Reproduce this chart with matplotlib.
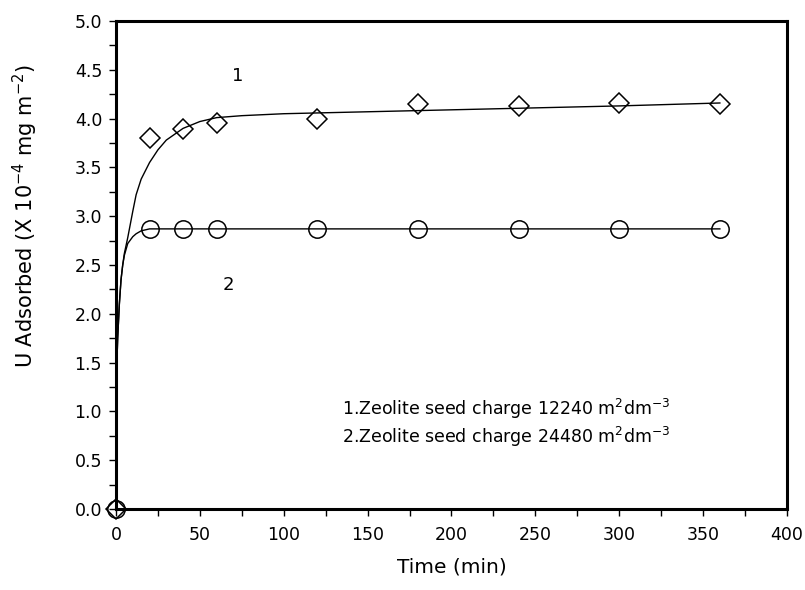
import matplotlib
matplotlib.use("Agg")
import matplotlib.pyplot as plt
from matplotlib.ticker import MultipleLocator

plt.rcParams['font.family'] = ['DejaVu Sans']
plt.rcParams['mathtext.fontset'] = 'dejavusans'

# measured points
time_pts = [0, 20, 40, 60, 120, 180, 240, 300, 360]
series1 = [0.0, 3.80, 3.89, 3.96, 4.00, 4.15, 4.13, 4.16, 4.15]
series2 = [0.0, 2.87, 2.87, 2.87, 2.87, 2.87, 2.87, 2.87, 2.87]

# fitted curves
fit1_x = [0, 1, 2, 3, 4, 5, 7, 10, 12, 15, 20, 25, 30, 40, 50, 60, 75, 100, 150, 200, 250, 300, 360]
fit1_y = [1.2, 1.75, 2.1, 2.35, 2.5, 2.62, 2.78, 3.05, 3.22, 3.38, 3.55, 3.68, 3.78, 3.90, 3.97, 4.01,
          4.03, 4.05, 4.07, 4.09, 4.11, 4.13, 4.16]
fit2_x = [0, 1, 2, 3, 4, 5, 7, 10, 12, 15, 20, 360]
fit2_y = [1.2, 1.75, 2.1, 2.35, 2.5, 2.6, 2.72, 2.79, 2.82, 2.85, 2.87, 2.87]

fig = plt.figure(figsize=(8.05, 5.9), dpi=100)
ax = fig.add_axes([0.1441, 0.1373, 0.9776 - 0.1441, 0.9644 - 0.1373])

ax.plot(fit1_x, fit1_y, color='black', lw=1.0, zorder=2)
ax.plot(fit2_x, fit2_y, color='black', lw=1.0, zorder=2)
ax.plot(time_pts, series1, linestyle='none', marker='D', markersize=10, markerfacecolor='none',
        markeredgecolor='black', markeredgewidth=1.1, zorder=3, clip_on=False)
ax.plot(time_pts, series2, linestyle='none', marker='o', markersize=12.5, markerfacecolor='none',
        markeredgecolor='black', markeredgewidth=1.1, zorder=3, clip_on=False)

ax.set_xlim(0, 400)
ax.set_ylim(0, 5.0)
ax.xaxis.set_major_locator(MultipleLocator(50))
ax.xaxis.set_minor_locator(MultipleLocator(25))
ax.yaxis.set_major_locator(MultipleLocator(0.5))
ax.yaxis.set_minor_locator(MultipleLocator(0.25))
ax.set_yticks(ax.get_yticks())
ax.set_yticklabels([f"{v:.1f}" for v in ax.get_yticks()])
ax.set_ylim(0, 5.0)
ax.tick_params(which='both', direction='out', length=5, width=1.0, labelsize=12.5, pad=5)
ax.tick_params(axis='x', which='both', pad=7)

for s in ax.spines.values():
    s.set_linewidth(2.2)

ax.set_xlabel('Time (min)', fontsize=14.5, labelpad=10)
ax.set_ylabel(r'U Adsorbed (X 10$^{-4}$ mg m$^{-2}$)', fontsize=15)
ax.yaxis.set_label_coords(-0.113, 0.60)

ax.text(72.7, 4.44, '1', fontsize=13, ha='center', va='center')
ax.text(66.7, 2.30, '2', fontsize=13, ha='center', va='center')
ax.text(135, 1.03, r'1.Zeolite seed charge 12240 m$^{2}$dm$^{-3}$', fontsize=12.5,
        ha='left', va='center')
ax.text(135, 0.74, r'2.Zeolite seed charge 24480 m$^{2}$dm$^{-3}$', fontsize=12.5,
        ha='left', va='center')

fig.savefig('out.png', dpi=100)
